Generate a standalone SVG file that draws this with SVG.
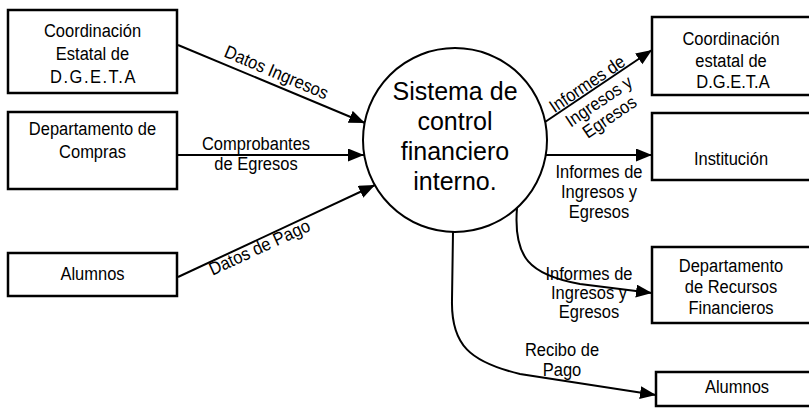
<svg xmlns="http://www.w3.org/2000/svg" width="809" height="408" viewBox="0 0 809 408">
  <style>
    .box { fill: #fff; stroke: #000; stroke-width: 2.5; }
    .proc { fill: #fff; stroke: #000; stroke-width: 2; }
    .t { font-family: "Liberation Sans", Arial, sans-serif; font-size: 16.5px; text-anchor: middle; fill: #000; }
    .wide { letter-spacing: 1.5px; }
    .big { font-family: "Liberation Sans", Arial, sans-serif; font-size: 25px; text-anchor: middle; fill: #000; }
    .edge { fill: none; stroke: #000; stroke-width: 2; marker-end: url(#ah); }
  </style>
  <defs>
    <marker id="ah" markerUnits="userSpaceOnUse" markerWidth="18" markerHeight="14" refX="16" refY="6.5" orient="auto">
      <path d="M0,0 L16,6.5 L0,13 z" fill="#000"/>
    </marker>
  </defs>
  <rect width="809" height="408" fill="#fff"/>

  <g id="connectors">
    <path class="edge" d="M178,45 L365,123"/>
    <path class="edge" d="M177,155 L364,155"/>
    <path class="edge" d="M178,277 L375,185"/>
    <path class="edge" d="M545,122 L652,50"/>
    <path class="edge" d="M546,155 L652,155"/>
    <path class="edge" d="M517,208 C513,258 530,275 580,284 L652,293"/>
    <path class="edge" d="M453,232 L452,300 C451,345 470,362 520,374 L656,395"/>
    <g id="labels">
      <text class="t" transform="translate(274,78) rotate(23) scale(1,1.1)">Datos Ingresos</text>
      <text class="t" transform="translate(256,150) scale(1,1.1)">Comprobantes</text>
      <text class="t" transform="translate(256,170) scale(1,1.1)">de Egresos</text>
      <text class="t" transform="translate(262,253) rotate(-24.7) scale(1,1.1)">Datos de Pago</text>
      <g transform="translate(595,88.4) rotate(-34)">
        <text class="t" transform="translate(-4,-2) scale(1,1.1)">Informes de</text>
        <text class="t" transform="translate(-4,19) scale(1,1.1)">Ingresos y</text>
        <text class="t" transform="translate(-4,38) scale(1,1.1)">Egresos</text>
      </g>
      <text class="t" transform="translate(599,178) scale(1,1.1)">Informes de</text>
      <text class="t" transform="translate(599,198) scale(1,1.1)">Ingresos y</text>
      <text class="t" transform="translate(599,218) scale(1,1.1)">Egresos</text>
      <text class="t" transform="translate(589,280) scale(1,1.1)">Informes de</text>
      <text class="t" transform="translate(589,299) scale(1,1.1)">Ingresos y</text>
      <text class="t" transform="translate(589,318) scale(1,1.1)">Egresos</text>
      <text class="t" transform="translate(562,356) scale(1,1.1)">Recibo de</text>
      <text class="t" transform="translate(562,376) scale(1,1.1)">Pago</text>
    </g>
  </g>

  <g id="coord-estatal-in">
    <rect class="box" x="8" y="10" width="169" height="83"/>
    <text class="t" transform="translate(92.5,37) scale(1,1.1)">Coordinación</text>
    <text class="t" transform="translate(92.5,60) scale(1,1.1)">Estatal de</text>
    <text class="t wide" transform="translate(93.5,83) scale(1,1.1)">D.G.E.T.A</text>
  </g>
  <g id="depto-compras">
    <rect class="box" x="8" y="112" width="169" height="77"/>
    <text class="t" transform="translate(92.5,135) scale(1,1.1)">Departamento de</text>
    <text class="t" transform="translate(92.5,158) scale(1,1.1)">Compras</text>
  </g>
  <g id="alumnos-in">
    <rect class="box" x="8" y="253" width="169" height="43"/>
    <text class="t" transform="translate(92.5,280) scale(1,1.1)">Alumnos</text>
  </g>

  <g id="sistema">
    <circle class="proc" cx="455" cy="140" r="92"/>
    <text class="big" x="455" y="100">Sistema de</text>
    <text class="big" x="455" y="130">control</text>
    <text class="big" x="455" y="160">financiero</text>
    <text class="big" x="455" y="190">interno.</text>
  </g>

  <g id="coord-estatal-out">
    <rect class="box" x="652" y="17" width="165" height="78"/>
    <text class="t" transform="translate(731,45) scale(1,1.1)">Coordinación</text>
    <text class="t" transform="translate(731,67) scale(1,1.1)">estatal de</text>
    <text class="t" transform="translate(733,88) scale(1,1.1)">D.G.E.T.A</text>
  </g>
  <g id="institucion">
    <rect class="box" x="652" y="113" width="165" height="67"/>
    <text class="t" transform="translate(731,165) scale(1,1.1)">Institución</text>
  </g>
  <g id="recursos-financieros">
    <rect class="box" x="652" y="247" width="165" height="76"/>
    <text class="t" transform="translate(731,272) scale(1,1.1)">Departamento</text>
    <text class="t" transform="translate(731,293) scale(1,1.1)">de Recursos</text>
    <text class="t" transform="translate(731,314) scale(1,1.1)">Financieros</text>
  </g>
  <g id="alumnos-out">
    <rect class="box" x="656" y="372" width="165" height="34"/>
    <text class="t" transform="translate(737,393) scale(1,1.1)">Alumnos</text>
  </g>
</svg>
